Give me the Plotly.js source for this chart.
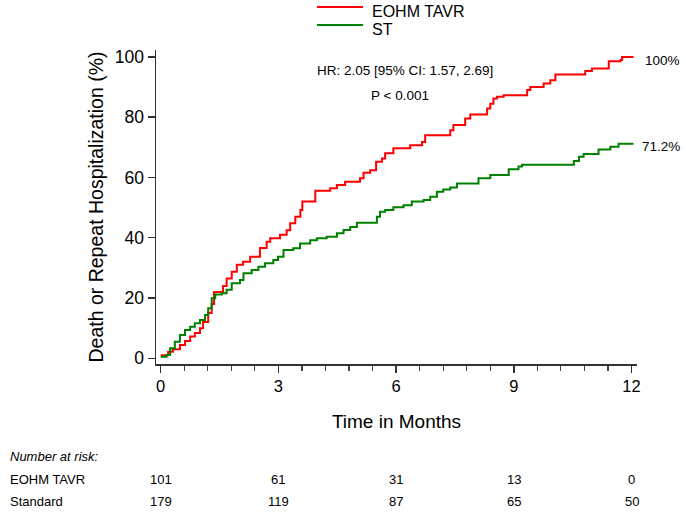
<!DOCTYPE html>
<html><head><meta charset="utf-8">
<script src="https://cdn.plot.ly/plotly-3.0.1.min.js"></script>
<style>html,body{margin:0;padding:0;background:#fff}#chart{width:686px;height:514px}</style>
</head><body><div id="chart"></div>
<script>
const seriesNames = ["EOHM TAVR", "ST"];
const tavrTime = [0.00,0.19,0.31,0.49,0.62,0.75,0.87,1.00,1.08,1.21,1.30,1.36,1.59,1.68,1.81,1.94,2.10,2.28,2.53,2.70,2.79,3.04,3.21,3.30,3.43,3.56,3.61,3.94,4.32,4.49,4.70,5.08,5.17,5.34,5.49,5.64,5.72,5.93,6.36,6.66,6.74,7.38,7.46,7.76,7.89,8.32,8.40,8.48,8.57,8.74,9.34,9.42,9.76,9.93,10.06,10.82,10.99,11.42,11.72,11.76,12.05];
const tavrPct = [1.0,2.2,3.0,4.4,5.7,7.2,8.4,10.0,12.0,15.0,18.0,22.0,24.0,26.5,28.7,31.0,32.0,33.7,36.6,38.7,39.8,41.0,42.5,44.8,47.0,49.2,52.0,55.6,56.4,57.5,58.6,59.7,61.6,62.4,65.2,66.3,68.0,69.7,70.7,71.8,74.0,75.7,77.4,79.6,80.9,82.9,84.5,86.2,86.8,87.3,89.0,90.0,91.2,92.3,94.2,95.3,96.2,98.6,99.0,100,100];
const stTime = [0.00,0.15,0.24,0.36,0.49,0.62,0.75,0.87,1.00,1.13,1.21,1.30,1.39,1.56,1.68,1.81,2.02,2.11,2.32,2.49,2.66,2.87,2.99,3.13,3.38,3.55,3.81,3.98,4.23,4.49,4.66,4.83,5.00,5.51,5.59,5.72,5.93,6.19,6.40,6.70,6.87,7.04,7.20,7.38,7.55,8.10,8.40,8.87,9.12,9.21,10.53,10.66,10.78,11.16,11.46,11.67,12.05];
const stPct = [0.5,1.1,3.3,5.5,7.7,9.4,10.5,11.6,12.7,14.4,16.6,19.9,21.2,21.6,22.7,24.9,26.0,28.2,29.3,30.4,31.5,32.6,33.7,35.9,36.5,38.1,39.2,39.8,40.3,41.5,42.6,43.6,45.0,47.0,48.6,49.2,50.1,50.8,52.0,52.5,53.6,55.3,56.0,56.7,58.0,59.7,60.8,62.7,63.6,64.2,65.5,66.9,67.8,69.3,70.2,71.2,71.2];
const riskTimes = [0, 3, 6, 9, 12];
const riskHeader = "Number at risk:";
const riskRowLabels = ["EOHM TAVR", "Standard"];
const riskTavr = [101, 61, 31, 13, 0];
const riskStandard = [179, 119, 87, 65, 50];
const xTickVals = [0, 3, 6, 9, 12];
const yTickVals = [0, 20, 40, 60, 80, 100];
const hrText = "HR: 2.05 [95% CI: 1.57, 2.69]";
const pText = "P < 0.001";
const endLabels = ["100%", "71.2%"];
const xTitle = "Time in Months";
const yTitle = "Death or Repeat Hospitalization (%)";

const FONT = "Liberation Sans, Arial, sans-serif";
const colors = ["#ff0000", "#008000"];

const traces = [
  {x: tavrTime, y: tavrPct, name: seriesNames[0], type: "scatter", mode: "lines",
   line: {shape: "hv", color: colors[0], width: 2}},
  {x: stTime, y: stPct, name: seriesNames[1], type: "scatter", mode: "lines",
   line: {shape: "hv", color: colors[1], width: 2}}
];

const ann = [];
const shapes = [];
const txt = (o) => Object.assign({showarrow: false, font: {family: FONT, size: 13, color: "#000"}}, o);
const f135 = {family: FONT, size: 13.5, color: "#000"};
ann.push(txt({text: hrText, xref: "x", yref: "y", x: 6.22, y: 95.6, xanchor: "center", yanchor: "middle", font: f135}));
ann.push(txt({text: pText, xref: "x", yref: "y", x: 6.1, y: 87.3, xanchor: "center", yanchor: "middle", font: f135}));
ann.push(txt({text: endLabels[0], xref: "paper", yref: "y", x: 1.0125, y: 98.9, xanchor: "left", yanchor: "middle", font: f135}));
ann.push(txt({text: endLabels[1], xref: "paper", yref: "y", x: 1.0062, y: 70.4, xanchor: "left", yanchor: "middle", font: f135}));
ann.push(txt({text: "<i>" + riskHeader + "</i>", xref: "paper", yref: "paper", x: -0.3077, y: -0.296, xanchor: "left", yanchor: "middle"}));
const rows = [riskTavr, riskStandard];
const rowY = [-0.369, -0.439];
rows.forEach((vals, r) => {
  ann.push(txt({text: riskRowLabels[r], xref: "paper", yref: "paper", x: -0.3077, y: rowY[r], xanchor: "left", yanchor: "middle"}));
  vals.forEach((v, i) => {
    ann.push(txt({text: String(v), xref: "x", yref: "paper", x: riskTimes[i], y: rowY[r], xanchor: "center", yanchor: "middle"}));
  });
});

// legend drawn at top (line samples + names)
const legLineY = [1.137, 1.0796];
const legTextY = [1.124, 1.0637];
seriesNames.forEach((nm, i) => {
  shapes.push({type: "line", xref: "paper", yref: "paper", x0: 0.3347, x1: 0.4304, y0: legLineY[i], y1: legLineY[i],
               line: {color: colors[i], width: 2}});
  ann.push(txt({text: nm, xref: "paper", yref: "paper", x: 0.4449, y: legTextY[i], xanchor: "left", yanchor: "middle",
                font: {family: FONT, size: 16, color: "#000"}}));
});

const layout = {
  width: 686, height: 514,
  margin: {l: 156, r: 49, t: 50, b: 150, pad: 0, autoexpand: false},
  paper_bgcolor: "#fff", plot_bgcolor: "#fff",
  font: {family: FONT, color: "#000"},
  showlegend: false,
  xaxis: {
    range: [-0.12, 12.14], showgrid: false, zeroline: false,
    showline: true, linecolor: "#333", linewidth: 1.5,
    ticks: "outside", ticklen: 7, tickwidth: 1.5, tickcolor: "#333",
    tickmode: "array", tickvals: xTickVals, ticktext: xTickVals.map(String),
    tickfont: {family: FONT, size: 16.5, color: "#000"},
    minor: {dtick: 0.6, tick0: 0, ticks: "outside", ticklen: 5, tickwidth: 1.2, tickcolor: "#444", showgrid: false},
    title: {text: xTitle, font: {family: FONT, size: 19, color: "#000"}, standoff: 20},
    automargin: false
  },
  yaxis: {
    range: [-1.9, 102.3], showgrid: false, zeroline: false,
    showline: true, linecolor: "#333", linewidth: 1.5,
    ticks: "outside", ticklen: 7, tickwidth: 1.5, tickcolor: "#333",
    tickmode: "array", tickvals: yTickVals, ticktext: yTickVals.map(String),
    tickfont: {family: FONT, size: 17.5, color: "#000"},
    title: {text: yTitle, font: {family: FONT, size: 19.5, color: "#000"}, standoff: 6},
    automargin: false
  },
  shapes: shapes,
  annotations: ann
};

Plotly.newPlot("chart", traces, layout, {displayModeBar: false, staticPlot: true});
</script>
</body></html>
